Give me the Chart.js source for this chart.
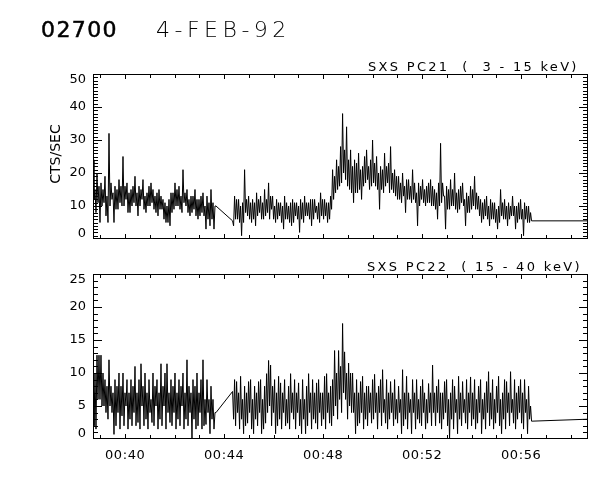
<!DOCTYPE html>
<html>
<head>
<meta charset="utf-8">
<script src="https://cdn.jsdelivr.net/npm/chart.js@4/dist/chart.umd.min.js"></script>
<style>
  body { margin: 0; background: #fff; }
  #page { position: relative; width: 600px; height: 480px; overflow: hidden; font-family: "DejaVu Sans", sans-serif; color: #000; }
  #page canvas { position: absolute; left: 0; }
  .txt { position: absolute; white-space: pre; }
</style>
</head>
<body>
<div id="page">
  <canvas id="top" width="600" height="250" style="top:0"></canvas>
  <canvas id="bottom" width="600" height="230" style="top:250px"></canvas>
  <div class="txt" style="left:41px;top:19px;font-size:22px;line-height:22px;letter-spacing:1.4px;-webkit-text-stroke:0.5px #000">02700</div>
  <div class="txt" style="left:156px;top:19px;font-size:22px;line-height:22px;letter-spacing:4.5px;font-weight:200">4-FEB-92</div>
  <div class="txt" style="left:368px;top:60px;font-size:13px;line-height:13px;letter-spacing:2.3px">SXS PC21  (  3 - 15 keV)</div>
  <div class="txt" style="left:367px;top:260px;font-size:13px;line-height:13px;letter-spacing:2.3px">SXS PC22  ( 15 - 40 keV)</div>
  <div class="txt" style="left:5px;top:147px;width:100px;text-align:center;font-size:14px;line-height:14px;transform:rotate(-90deg)">CTS/SEC</div>
</div>
<script>
// time axis, minutes after 00:00 UT
const X_MIN = 38.70;
const X_MAX = 58.70;
const T1_START = 38.70;   // first bin
const T2_START = 44.34;   // first bin after the data gap
const HALF = 0.0404;      // minutes between the max and min sample of a bin
const T_TAIL = 60.0;      // next sample, off the right edge

const xTickMinutes = [39, 40, 41, 42, 43, 44, 45, 46, 47, 48, 49, 50, 51, 52, 53, 54, 55, 56, 57, 58];
const xLabelMinutes = [40, 44, 48, 52, 56];
const xLabels = ['00:40', '00:44', '00:48', '00:52', '00:56'];

const topTicks = [0, 10, 20, 30, 40, 50];
const bottomTicks = [0, 5, 10, 15, 20, 25];

// PC21, 3 - 15 keV (cts/sec): max and min of each bin
const topSeg1High = [
  24, 15, 20, 16, 17, 15, 19, 13, 32, 17,
  14, 16, 15, 18, 16, 25, 16, 17, 14, 15,
  16, 19, 14, 16, 15, 18, 13, 14, 16, 17,
  15, 13, 14, 15, 13, 12, 11, 10, 12, 14,
  14, 17, 15, 16, 13, 21, 14, 15, 12, 13,
  13, 15, 12, 12, 13, 14, 10, 13, 11, 15,
  11, 10
];
const topSeg1Low = [
  12, 8, 11, 5, 10, 11, 7, 5, 10, 12,
  5, 9, 9, 11, 10, 10, 12, 8, 8, 10,
  11, 10, 7, 10, 12, 9, 8, 10, 10, 11,
  9, 8, 7, 9, 9, 6, 5, 5, 4, 8,
  9, 10, 10, 9, 8, 11, 10, 8, 7, 8,
  9, 7, 6, 7, 8, 7, 3, 6, 4, 6,
  3, 10
];
const topSeg2High = [
  5.5, 13, 12, 12, 10, 11, 21, 12, 13, 11,
  12, 11, 14, 12, 13, 11, 15, 12, 17, 13,
  13, 10, 12, 11, 11, 10, 13, 11, 10, 11,
  12, 11, 11, 10, 12, 11, 13, 11, 11, 12,
  12, 12, 10, 11, 14, 12, 12, 11, 11, 13,
  21, 19, 24, 22, 28, 38, 27, 34, 24, 27,
  22, 24, 23, 26, 21, 22, 25, 27, 22, 24,
  30, 23, 25, 20, 22, 21, 26, 22, 23, 28,
  20, 21, 19, 19, 17, 20, 16, 18, 18, 16,
  21, 17, 14, 17, 16, 18, 15, 16, 17, 18,
  16, 15, 14, 17, 29, 17, 13, 16, 15, 18,
  15, 20, 14, 15, 16, 17, 12, 14, 13, 16,
  15, 19, 14, 13, 12, 11, 12, 13, 10, 12,
  11, 11, 9, 10, 15, 11, 12, 10, 11, 10,
  13, 10, 10, 11, 12, 9, 11, 10, 10, 8
];
const topSeg2Low = [
  4, 6, 6, 5, 1, 5, 8, 7, 6, 5,
  6, 4, 7, 8, 6, 6, 7, 8, 6, 9,
  6, 5, 6, 7, 5, 3, 6, 6, 5, 4,
  5, 7, 6, 2, 6, 5, 7, 7, 6, 4,
  6, 8, 6, 5, 7, 6, 7, 5, 6, 9,
  12, 14, 15, 16, 17, 20, 18, 16, 15, 14,
  11, 14, 14, 15, 12, 16, 17, 18, 15, 16,
  17, 16, 15, 9, 15, 14, 16, 17, 14, 15,
  14, 13, 12, 12, 11, 13, 8, 12, 12, 11,
  12, 11, 4, 10, 12, 11, 10, 11, 11, 10,
  10, 9, 6, 10, 11, 13, 3, 9, 9, 10,
  10, 9, 8, 9, 11, 10, 4, 8, 8, 9,
  10, 9, 9, 7, 5, 6, 7, 6, 4, 6,
  6, 5, 3, 5, 7, 6, 6, 4, 6, 7,
  7, 3, 5, 6, 6, 1, 6, 5, 5, 5.5
];
const topTail = 5.5;

// PC22, 15 - 40 keV (cts/sec): max and min of each bin
const bottomSeg1High = [
  7, 10, 12.7, 12.7, 12.7, 10, 9, 8, 12, 8,
  7, 9, 8, 10, 8, 10, 7, 9, 7, 9,
  8, 11, 7, 9, 11.4, 8, 10, 7, 9, 6,
  10, 8, 9, 7, 11.4, 8, 10, 11.4, 7, 9,
  8, 10, 7, 9, 8, 10, 7, 12, 8, 7,
  9, 8, 10, 7, 9, 12, 6, 9, 6, 8,
  6, 4
];
const bottomSeg1Low = [
  2, 1.5, 6, 6, 5, 5, 4, 3, 5, 4,
  0.7, 2, 4, 1.5, 3.5, 2, 5, 1.5, 3, 2,
  4, 2, 2.5, 1.5, 5, 2, 3, 1.5, 4, 2.5,
  2, 5, 1.5, 3, 2, 5, 1.5, 4, 2.5, 2,
  4, 1.5, 3, 2, 5, 1.5, 3, 2, 4, 0,
  3, 1.5, 2, 4, 1.5, 2, 2.2, 4, 0.8, 3,
  1.5, 4
];
const bottomSeg2High = [
  7.2, 9, 8.7, 7, 9.5, 6, 8, 7, 8.7, 9,
  6, 8, 7, 8.7, 9, 6, 8, 9.9, 11.9, 11.2,
  8, 9, 7, 9.5, 8.5, 7, 9, 6, 8, 9.9,
  7, 9, 7, 8.5, 6, 9, 6, 8, 9.9, 7,
  9, 7, 8.5, 9, 7, 7, 9.5, 9.9, 7, 8,
  9, 13.4, 10, 13.4, 11, 17.5, 13.2, 10, 11.5, 10,
  10, 7, 9, 7, 8.7, 9.5, 7, 8, 8, 7,
  9, 9.8, 7, 8, 9, 10.5, 6, 9, 7, 8.7,
  7, 9, 6, 8, 6, 10.5, 7, 9.5, 7, 6,
  9, 7, 9, 6, 8, 9, 7, 6, 8.4, 7,
  11.2, 7, 8, 9, 7, 7, 8.7, 9, 6, 7,
  9, 8, 6, 9.5, 7, 8.7, 6, 9, 7, 9.4,
  7, 9, 6, 8, 9, 6, 7, 8.7, 10.2, 7,
  9, 6, 8, 9.5, 6, 7, 9, 8.7, 7, 10.2,
  6, 9, 7, 8, 9, 7, 9, 6, 8, 5
];
const bottomSeg2Low = [
  3, 2, 4, 1.5, 3, 0.8, 2, 2.4, 4, 1.5,
  0.8, 3, 2, 4, 0.8, 1.5, 2.4, 4, 5, 2,
  4, 0.8, 2, 3, 1.5, 4, 2, 2.4, 1.5, 4,
  3, 1.5, 4, 2, 0.8, 3, 0.8, 2, 4, 1.5,
  3, 2.4, 1.5, 4, 2, 3, 1.5, 4, 2.4, 2,
  3.5, 5, 3, 6, 4, 7, 6, 3, 5, 4,
  4, 0.8, 2, 2.4, 4, 1.5, 3, 2, 4, 2.4,
  3, 4, 1.5, 4, 2, 4, 2.4, 1.5, 3, 4,
  2, 3, 2.4, 4, 0.8, 2, 3, 1.5, 4, 0.8,
  4, 1.5, 3, 2.4, 2, 4, 1.5, 2.4, 4, 2,
  4, 2, 4, 2.4, 1.5, 3, 4, 2, 0, 3,
  1.5, 4, 0.8, 3, 2, 4, 2.4, 1.5, 4, 2,
  3, 1.5, 2.4, 4, 0.8, 3, 1.5, 4, 2, 3,
  1.5, 2.4, 4, 2, 0.8, 3, 1.5, 4, 2, 4,
  2.4, 1.5, 3, 4, 2.4, 1.5, 4, 0.8, 3, 2.7
];
const bottomTail = 3.17;

// each bin is drawn through its max then its min, as a dense light curve looks
function addBins(pts, start, high, low) {
  high.forEach((h, i) => {
    pts.push({ x: start + 2 * i * HALF, y: h });
    pts.push({ x: start + (2 * i + 1) * HALF, y: low[i] });
  });
}

function buildSeries(h1, l1, h2, l2, tail) {
  const pts = [];
  addBins(pts, T1_START, h1, l1);
  addBins(pts, T2_START, h2, l2);
  pts.push({ x: T_TAIL, y: tail });
  return pts;
}

// box with inward ticks on all four sides
function idlAxes(majors, showXLabels) {
  return {
    id: 'idlAxes',
    afterDraw(chart) {
      const { ctx, chartArea: a } = chart;
      const xs = chart.scales.x, ys = chart.scales.y;
      const L = Math.round(a.left), R = Math.round(a.right) - 1;
      const T = Math.round(a.top), B = Math.round(a.bottom) - 1;
      const yMax = majors[majors.length - 1];
      ctx.save();
      ctx.fillStyle = '#000';
      ctx.fillRect(L, T, R - L + 1, 1);
      ctx.fillRect(L, B, R - L + 1, 1);
      ctx.fillRect(L, T, 1, B - T + 1);
      ctx.fillRect(R, T, 1, B - T + 1);
      for (let v = 0; v <= yMax; v++) {
        const p = Math.min(B, Math.max(T, Math.round(ys.getPixelForValue(v))));
        const len = majors.includes(v) ? 9 : 5;
        ctx.fillRect(L, p, len, 1);
        ctx.fillRect(R - len + 1, p, len, 1);
      }
      xTickMinutes.forEach(m => {
        const p = Math.round(xs.getPixelForValue(m));
        const len = xLabelMinutes.includes(m) ? 5 : 4;
        ctx.fillRect(p, B - len + 1, 1, len);
        ctx.fillRect(p, T, 1, len);
      });

      ctx.font = '13px "DejaVu Sans"';
      ctx.textAlign = 'right';
      ctx.textBaseline = 'middle';
      majors.forEach((v, i) => {
        let p = ys.getPixelForValue(v);
        if (i === 0) p -= 5;
        if (i === majors.length - 1) p += 6;
        ctx.fillText(String(v), L - 7, p);
      });
      if (showXLabels) {
        ctx.textAlign = 'center';
        ctx.letterSpacing = '0.6px';
        xLabelMinutes.forEach((m, i) => {
          ctx.fillText(xLabels[i], xs.getPixelForValue(m), B + 18);
        });
      }
      ctx.restore();
    }
  };
}

function panel(id, data, yMax, pad, majors, showXLabels) {
  new Chart(document.getElementById(id), {
    type: 'line',
    data: {
      datasets: [{
        data: data,
        borderColor: '#000',
        borderWidth: 1,
        pointRadius: 0,
        tension: 0,
        fill: false
      }]
    },
    options: {
      responsive: false,
      animation: false,
      devicePixelRatio: 1,
      layout: { padding: pad },
      plugins: { legend: { display: false }, tooltip: { enabled: false } },
      scales: {
        x: { type: 'linear', min: X_MIN, max: X_MAX, display: false },
        y: { min: 0, max: yMax, display: false }
      }
    },
    plugins: [idlAxes(majors, showXLabels)]
  });
}

panel('top', buildSeries(topSeg1High, topSeg1Low, topSeg2High, topSeg2Low, topTail), 50,
  { left: 93, right: 12, top: 74, bottom: 11 }, topTicks, false);
panel('bottom', buildSeries(bottomSeg1High, bottomSeg1Low, bottomSeg2High, bottomSeg2Low, bottomTail), 25,
  { left: 93, right: 12, top: 24, bottom: 41 }, bottomTicks, true);
</script>
</body>
</html>
